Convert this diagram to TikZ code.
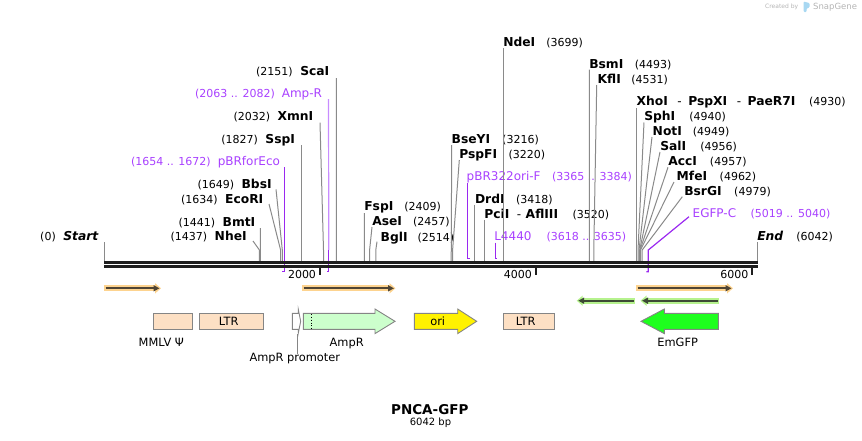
\documentclass[tikz,border=0pt]{standalone}
\usepackage{fontspec}
\setmainfont{DejaVu Sans}
\usetikzlibrary{arrows.meta}
\definecolor{cutgray}{HTML}{8A8A8A}
\definecolor{primtext}{HTML}{A840FF}
\definecolor{primline}{HTML}{9A28F0}
\definecolor{primlt}{HTML}{C88CFF}
\definecolor{peach}{HTML}{FDE0C4}
\definecolor{ampg}{HTML}{CCFFCC}
\definecolor{gfp}{HTML}{1EFF1E}
\definecolor{orgl}{HTML}{FDD38F}
\definecolor{grnl}{HTML}{B6F28E}
\definecolor{arrd}{HTML}{4F4535}
\definecolor{arrg}{HTML}{3D4A35}
\definecolor{featedge}{HTML}{858585}
\definecolor{barc}{HTML}{1E1E1E}
\definecolor{logogray}{HTML}{B4B4B4}
\definecolor{logoblue}{HTML}{A8D8F2}
\newcommand\myfz[1]{\fontsize{#1}{#1}\selectfont}
\newcommand\rn[1]{{\myfz{11}(#1)}}
\newcommand\rb[1]{{\myfz{12.3}\bfseries #1}}
\newcommand\rp[1]{{\myfz{12}#1}}
\begin{document}
\begin{tikzpicture}[x=1pt,y=-1pt,
  lblL/.style={anchor=base east,inner sep=0pt,outer sep=0pt},
  lblR/.style={anchor=base west,inner sep=0pt,outer sep=0pt},
  cut/.style={draw=cutgray,line width=1pt},
  pline/.style={draw=primline,line width=1.2pt},
  feat/.style={draw=featedge,line width=0.9pt},
  flabel/.style={anchor=base,inner sep=0pt,font=\myfz{11.4}},
  glowO/.style={line width=6pt,draw=orgl,-{Triangle[length=6pt,width=10pt]}},
  glowG/.style={line width=6pt,draw=grnl,-{Triangle[length=6pt,width=10pt]}},
  darrO/.style={line width=2pt,draw=arrd,-{Triangle[length=6pt,width=6pt]}},
  darrG/.style={line width=2pt,draw=arrg,-{Triangle[length=6pt,width=6pt]}},
  ticklab/.style={anchor=base east,inner sep=0pt,font=\myfz{11}}
]
\useasboundingbox (0,0) rectangle (862,440);

% ---------- logo ----------
\node[anchor=base west,inner sep=0pt,font=\myfz{6},text=logogray] (createdby) at (765,8.5) {Created by};
\fill[logoblue,rounded corners=1pt] (803.5,1.5) -- (809.5,3) -- (809.5,7.5) -- (806.5,8.5) -- (806.5,12) -- (803.5,12) -- cycle;
\node[anchor=base west,inner sep=0pt,font=\myfz{8.5},text=logogray] (snapgene) at (813,9) {SnapGene};

% ---------- labels, left group ----------
\node[lblL] (start) at (98.3,240.7) {\rn{0}\hspace{7.5pt}\rb{\itshape Start}};
\node[lblL] (nhei) at (246.7,240.7) {\rn{1437}\hspace{7.5pt}\rb{NheI}};
\node[lblL] (bmti) at (255.3,226.3) {\rn{1441}\hspace{7.5pt}\rb{BmtI}};
\node[lblL] (ecori) at (263.3,203) {\rn{1634}\hspace{7.5pt}\rb{EcoRI}};
\node[lblL] (bbsi) at (271.7,188) {\rn{1649}\hspace{7.5pt}\rb{BbsI}};
\node[lblL,text=primtext] (pbrforeco) at (280,165.7) {\rn{1654 .. 1672}\hspace{7pt}\rp{pBRforEco}};
\node[lblL] (sspi) at (295,143) {\rn{1827}\hspace{7.5pt}\rb{SspI}};
\node[lblL] (xmni) at (313.3,120.7) {\rn{2032}\hspace{7.5pt}\rb{XmnI}};
\node[lblL,text=primtext] (ampr) at (322,97.3) {\rn{2063 .. 2082}\hspace{7pt}\rp{Amp-R}};
\node[lblL] (scai) at (329.3,75.7) {\rn{2151}\hspace{7.5pt}\rb{ScaI}};

% ---------- labels, right group ----------
\node[lblR] (fspi) at (364.3,210.7) {\rb{FspI}\hspace{11pt}\rn{2409}};
\node[lblR] (asei) at (372.3,225.7) {\rb{AseI}\hspace{11pt}\rn{2457}};
\node[lblR] (bgli) at (380.7,241) {\rb{BglI}\hspace{10pt}\rn{2514}};
\node[lblR] (bseyi) at (451.7,143) {\rb{BseYI}\hspace{12pt}\rn{3216}};
\node[lblR] (pspfi) at (459.3,158) {\rb{PspFI}\hspace{11.5pt}\rn{3220}};
\node[lblR,text=primtext] (pbrori) at (466.7,180.7) {\rp{pBR322ori-F}\hspace{11.5pt}\rn{3365 .. 3384}};
\node[lblR] (drdi) at (475,203) {\rb{DrdI}\hspace{11.5pt}\rn{3418}};
\node[lblR] (pcii) at (484.3,218) {\rb{PciI}\hspace{7.5pt}{\myfz{12}-}\hspace{4.5pt}\rb{AflIII}\hspace{14.5pt}\rn{3520}};
\node[lblR,text=primtext] (lfour) at (494.3,240.7) {\rp{L4440}\hspace{15pt}\rn{3618 .. 3635}};
\node[lblR] (ndei) at (503.3,46.3) {\rb{NdeI}\hspace{11pt}\rn{3699}};
\node[lblR] (bsmi) at (589.3,68) {\rb{BsmI}\hspace{11.5pt}\rn{4493}};
\node[lblR] (kfli) at (597.7,83) {\rb{KflI}\hspace{10.5pt}\rn{4531}};
\node[lblR] (xhoi) at (636.7,105.7) {\rb{XhoI}\hspace{9.5pt}{\myfz{12}-}\hspace{6.5pt}\rb{PspXI}\hspace{9.5pt}{\myfz{12}-}\hspace{6.5pt}\rb{PaeR7I}\hspace{13.5pt}\rn{4930}};
\node[lblR] (sphi) at (644.3,120.7) {\rb{SphI}\hspace{14pt}\rn{4940}};
\node[lblR] (noti) at (652.7,135.7) {\rb{NotI}\hspace{11pt}\rn{4949}};
\node[lblR] (sali) at (660.3,150.7) {\rb{SalI}\hspace{14pt}\rn{4956}};
\node[lblR] (acci) at (668.3,165.7) {\rb{AccI}\hspace{13pt}\rn{4957}};
\node[lblR] (mfei) at (676.7,180.7) {\rb{MfeI}\hspace{12.5pt}\rn{4962}};
\node[lblR] (bsrgi) at (684.3,195.7) {\rb{BsrGI}\hspace{12.5pt}\rn{4979}};
\node[lblR,text=primtext] (egfpc) at (692.7,217.3) {\rp{EGFP-C}\hspace{14.5pt}\rn{5019 .. 5040}};
\node[lblR] (endl) at (757.3,240.7) {\rb{\itshape End}\hspace{13pt}\rn{6042}};

% ---------- cut-site connectors (left) ----------
\draw[cut] (start.base east) ++(5.7,1.3) -- (104,262);
\draw[cut] (nhei.base east) ++(6.3,0.3) -- (259.4,250) -- (259.4,262);
\draw[cut] (bmti.base east) ++(5.1,1.7) -- (260.4,262);
\draw[cut] (ecori.base east) ++(5.7,1) -- (280.6,250) -- (280.6,262);
\draw[cut] (bbsi.base east) ++(4.3,1.3) -- (282.3,250) -- (282.3,262);
\draw[cut] (sspi.base east) ++(6.6,2) -- (301.6,262);
\draw[cut] (xmni.base east) ++(6.7,2) -- (323.5,250) -- (323.5,262);
\draw[cut] (scai.base east) ++(7.1,2.3) -- (336.4,262);

% ---------- cut-site connectors (right) ----------
\draw[cut] (fspi.base west) ++(0.1,2.3) -- (364.4,262);
\draw[cut] (asei.base west) ++(-0.3,1.3) -- (369.6,250) -- (369.6,262);
\draw[cut] (bgli.base west) ++(-3.7,0.7) -- (375.8,250) -- (375.8,262);
\draw[cut] (bseyi.base west) ++(0,2) -- (451.2,262);
\draw[cut] (pspfi.base west) ++(0,2) -- (452.6,250) -- (452.6,262);
\draw[cut] (drdi.base west) ++(-0.8,1.5) -- (474.2,262);
\draw[cut] (pcii.base west) ++(0.2,1.5) -- (484.5,262);
\draw[cut] (ndei.base west) ++(0.4,2) -- (503.7,262);
\draw[cut] (bsmi.base west) ++(0.1,1.5) -- (589.4,262);
\draw[cut] (kfli.base west) ++(-1,2) -- (593.8,250) -- (593.8,262);
\draw[cut] (xhoi.base west) ++(0.1,2.3) -- (636.8,262);
\draw[cut] (sphi.base west) ++(-0.3,1.8) -- (638,250) -- (638,262);
\draw[cut] (noti.base west) ++(-0.7,1.3) -- (639,250) -- (639,262);
\draw[cut] (sali.base west) ++(-0.3,1.3) -- (639.7,250) -- (639.7,262);
\draw[cut] (acci.base west) ++(-0.3,1.6) -- (640,250) -- (640,262);
\draw[cut] (mfei.base west) ++(-2.7,1.3) -- (640.5,250) -- (640.5,262);
\draw[cut] (bsrgi.base west) ++(-2,1) -- (642.2,250) -- (642.2,262);
\draw[cut] (endl.base west) ++(0.3,1.3) -- (757.6,262);

% ---------- primer connectors ----------
\draw[pline] (pbrforeco.base east) ++(4.3,1.6) -- (284.3,271.2) -- (282.4,271.2);
\draw[draw=primlt,line width=1.2pt] (ampr.base east) ++(6.5,1.7) -- (328.8,250);
\draw[pline] (328.8,250) -- (328.8,271.2) -- (326.9,271.2);
\draw[pline] (pbrori.base west) ++(1.1,2.3) -- (467.8,258.3) -- (470,258.3);
\draw[pline] (lfour.base west) ++(0.8,2) -- (495.1,258.3) -- (497.1,258.3);
\draw[pline] (egfpc.base west) ++(-3.7,-0.6) -- (648.3,250) -- (648.3,271.7) -- (646.4,271.7);

% ---------- sequence bar ----------
\coordinate (barL) at (104,262.5);
\coordinate (barR) at (758,262.5);
\draw[barc,line width=3.6pt] (barL) -- (barR);
\draw[barc,line width=2.5pt] ([yshift=-3.9pt]barL) -- ([yshift=-3.9pt]barR);

% ticks
\draw[barc,line width=2pt] (320,268) -- (320,274.5);
\draw[barc,line width=2pt] (535.9,268) -- (535.9,274.5);
\draw[barc,line width=2pt] (752.4,268) -- (752.4,274.5);
\node[ticklab] (t2000) at (316.2,278.3) {2000};
\node[ticklab] (t4000) at (532.1,278.3) {4000};
\node[ticklab] (t6000) at (748.6,278.3) {6000};

% ---------- ORF arrows ----------
\draw[glowO] (104,288.3) -- (161,288.3);
\draw[darrO] (105.5,288.3) -- (159.5,288.3);
\draw[glowO] (302,288.3) -- (395.5,288.3);
\draw[darrO] (303.5,288.3) -- (394,288.3);
\draw[glowO] (636,288.3) -- (733,288.3);
\draw[darrO] (637.5,288.3) -- (731.5,288.3);
\draw[glowG] (635,300.7) -- (576.7,300.7);
\draw[darrG] (633.5,300.7) -- (578.2,300.7);
\draw[glowG] (719.3,300.7) -- (640.5,300.7);
\draw[darrG] (717.8,300.7) -- (642,300.7);

% ---------- features ----------
\draw[feat,fill=peach] (153.3,313.3) rectangle (192.3,329.3);
\draw[feat,fill=peach] (199.3,313.3) rectangle (263.3,329.3);
\draw[feat,fill=white] (292.3,313.3) -- (298.3,313.3) -- (298.3,309.5) -- (300.7,321.3) -- (298.3,333.1) -- (298.3,329.3) -- (292.3,329.3) -- cycle;
\draw[feat,fill=ampg] (303.3,313.3) -- (375,313.3) -- (375,309) -- (395,321.3) -- (375,333.6) -- (375,329.3) -- (303.3,329.3) -- cycle;
\draw[black,dotted,line width=0.9pt] (311,313.8) -- (311,328.8);
\draw[feat,fill=yellow] (414.3,313.3) -- (457.7,313.3) -- (457.7,309) -- (476.7,321.3) -- (457.7,333.6) -- (457.7,329.3) -- (414.3,329.3) -- cycle;
\draw[feat,fill=peach] (503.3,313.3) rectangle (554.3,329.3);
\draw[feat,fill=gfp] (718.3,313.3) -- (664.3,313.3) -- (664.3,309) -- (641,321.3) -- (664.3,333.6) -- (664.3,329.3) -- (718.3,329.3) -- cycle;

\node[flabel] (ltra) at (228.7,325.3) {LTR};
\node[flabel] (orilab) at (437.7,325.2) {ori};
\node[flabel] (ltrb) at (525.7,325.3) {LTR};
\node[flabel] (mmlv) at (161.3,346.5) {MMLV Ψ};
\node[flabel] (amprlab) at (346.7,346) {AmpR};
\node[flabel] (emgfp) at (677.7,346) {EmGFP};
\node[flabel] (promlab) at (294.8,361.3) {AmpR promoter};
\coordinate (promtop) at (297.7,334.3);
\draw[featedge,line width=0.9pt] (promtop) -- ([yshift=-1pt]promlab.north -| promtop);

% ---------- title ----------
\node[anchor=base,inner sep=0pt,font=\myfz{13.5}\bfseries] (title) at (429.8,414) {PNCA-GFP};
\node[anchor=base,inner sep=0pt,font=\myfz{10}] (bplen) at (430.5,425.5) {6042 bp};
\end{tikzpicture}
\end{document}
